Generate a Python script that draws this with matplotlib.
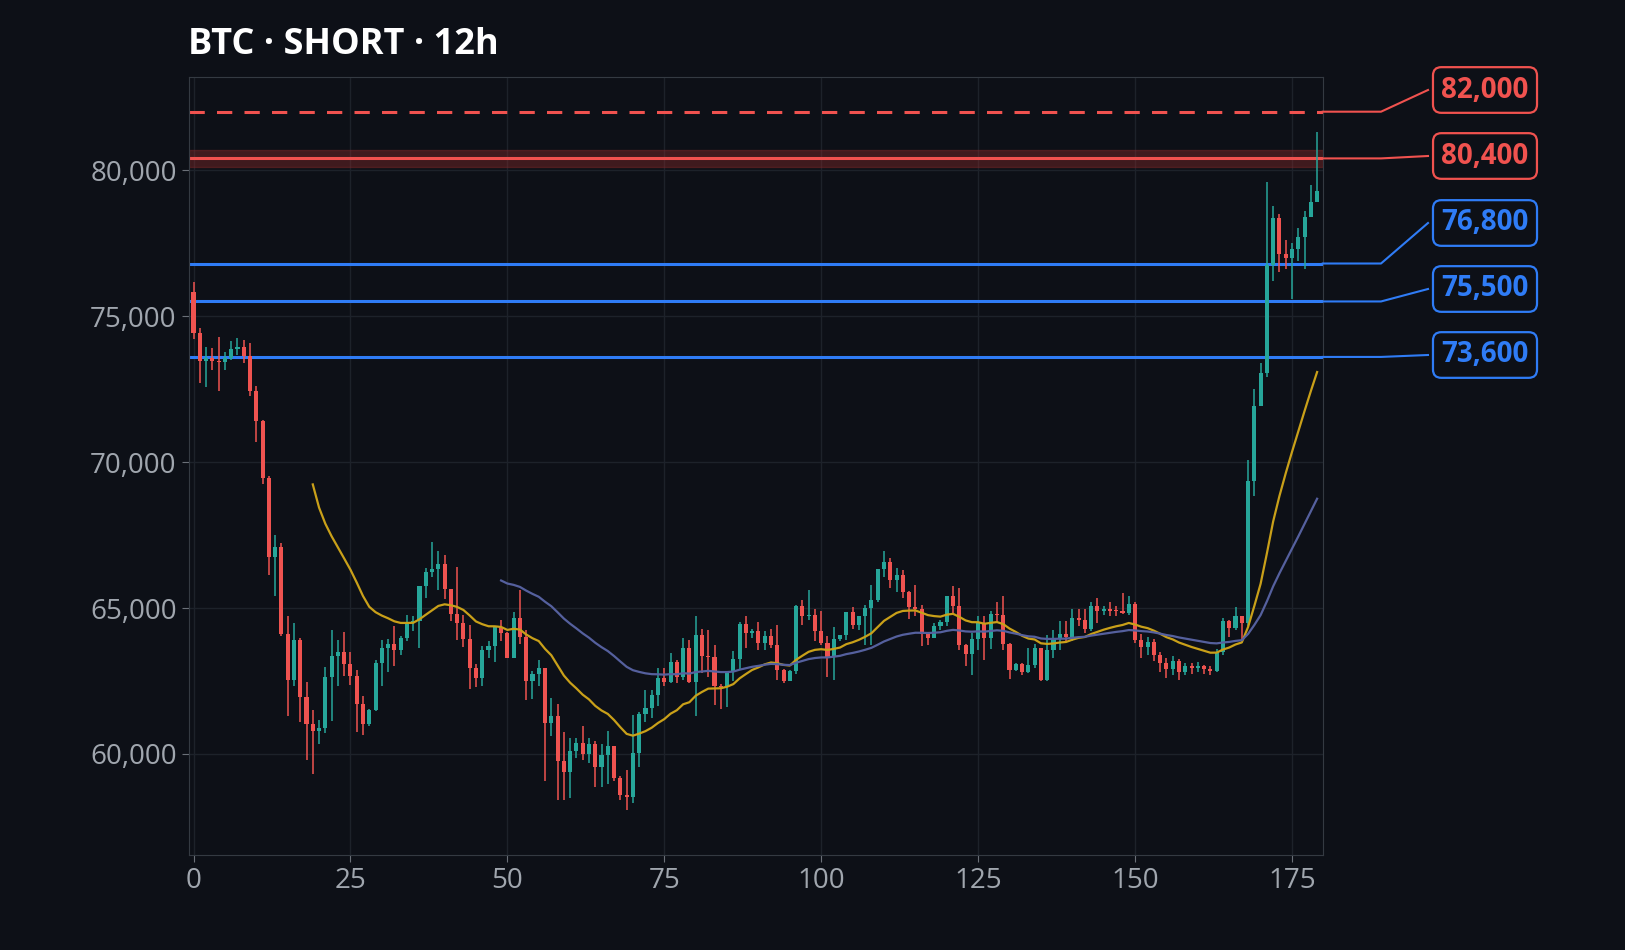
import numpy as np
import matplotlib.pyplot as plt

plt.rcParams['font.family'] = ['Open Sans', 'Noto Sans', 'DejaVu Sans']

# OHLC, in thousands of USD
first_open = 75.82
close = [74.42, 73.45, 73.56, 73.45, 73.41, 73.55, 73.87, 73.94, 73.62, 72.45,
         71.39, 69.44, 66.74, 67.10, 64.10, 62.52, 63.92, 61.94, 61.02, 60.78,
         60.89, 62.64, 63.37, 63.49, 63.07, 62.66, 61.70, 61.02, 61.52, 63.12,
         63.63, 63.77, 63.55, 63.97, 64.49, 64.54, 65.76, 66.24, 66.34, 66.52,
         65.65, 64.79, 64.49, 63.94, 62.95, 62.60, 63.55, 63.71, 64.35, 64.14,
         63.29, 64.66, 64.01, 62.49, 62.75, 62.94, 61.06, 61.31, 59.75, 59.37,
         60.11, 60.38, 60.00, 60.34, 59.54, 59.98, 60.26, 59.17, 58.58, 58.53,
         60.03, 61.38, 61.58, 62.03, 62.60, 62.45, 63.14, 62.63, 63.63, 62.45,
         64.09, 63.37, 63.32, 62.32, 62.30, 62.80, 63.25, 64.46, 64.14, 64.22,
         63.80, 64.05, 63.74, 62.87, 62.50, 62.83, 65.08, 64.71, 64.77, 64.20,
         63.80, 63.32, 63.95, 64.08, 64.87, 64.43, 64.71, 65.01, 65.29, 66.34,
         66.59, 65.97, 66.14, 65.54, 65.03, 64.96, 64.11, 63.97, 64.40, 64.53,
         65.42, 65.06, 63.72, 63.42, 63.94, 64.49, 63.97, 64.79, 64.77, 63.77,
         62.86, 63.08, 62.80, 63.05, 63.63, 62.54, 63.57, 63.94, 64.12, 64.01,
         64.66, 64.58, 64.29, 65.06, 64.89, 64.97, 64.91, 64.90, 64.83, 65.15,
         63.92, 63.65, 63.85, 63.40, 63.10, 62.90, 63.20, 62.80, 63.00, 62.95,
         63.00, 62.90, 62.85, 63.50, 64.57, 64.31, 64.74, 64.48, 69.36, 71.93,
         73.05, 76.76, 78.36, 77.12, 77.00, 77.30, 77.70, 78.40, 78.90, 79.30]
high = [76.16, 74.59, 73.94, 73.90, 74.28, 73.78, 74.15, 74.26, 74.19, 74.09,
        72.61, 71.44, 69.53, 67.51, 67.23, 64.74, 64.49, 63.97, 62.45, 61.52,
        61.18, 62.98, 64.26, 63.89, 64.19, 63.48, 62.89, 61.98, 61.55, 63.23,
        63.92, 63.95, 64.39, 64.03, 64.77, 64.71, 65.77, 66.37, 67.27, 66.96,
        66.83, 65.56, 66.40, 64.77, 64.43, 63.09, 63.69, 63.88, 64.37, 64.60,
        64.18, 64.85, 65.60, 64.26, 62.83, 63.23, 62.94, 61.92, 61.72, 60.77,
        60.55, 60.55, 60.95, 60.55, 60.43, 60.34, 60.80, 60.28, 59.26, 59.46,
        61.35, 61.43, 62.20, 62.18, 62.94, 62.94, 63.46, 63.23, 63.97, 63.91,
        64.74, 64.28, 64.24, 63.74, 62.41, 62.83, 63.52, 64.51, 64.71, 64.29,
        64.51, 64.22, 64.29, 64.43, 62.91, 62.89, 65.11, 65.29, 65.63, 64.97,
        64.89, 64.05, 64.35, 64.09, 64.87, 65.03, 64.71, 65.11, 65.80, 66.34,
        66.96, 66.71, 66.37, 66.31, 65.59, 65.80, 65.10, 64.19, 64.49, 64.60,
        65.42, 65.77, 65.69, 63.78, 64.14, 64.74, 64.74, 64.89, 65.19, 65.42,
        63.80, 63.12, 63.12, 63.63, 63.78, 63.60, 64.09, 64.23, 64.54, 64.54,
        64.97, 64.97, 64.97, 65.19, 65.34, 65.08, 65.19, 65.06, 65.51, 65.40,
        65.20, 64.10, 64.00, 63.95, 63.50, 63.30, 63.35, 63.25, 63.10, 63.10,
        63.15, 63.05, 63.00, 63.60, 64.65, 64.60, 65.03, 64.74, 70.08, 72.50,
        73.40, 79.60, 78.78, 78.50, 77.60, 77.50, 78.00, 78.60, 79.50, 81.30]
low = [74.21, 72.70, 72.56, 73.14, 72.45, 73.16, 73.50, 73.68, 73.38, 72.25,
       70.67, 69.24, 66.14, 65.40, 64.03, 61.31, 62.34, 61.08, 59.80, 59.30,
       60.35, 60.72, 61.14, 62.34, 62.66, 62.37, 60.74, 60.66, 60.95, 61.48,
       62.32, 62.80, 63.00, 63.38, 63.86, 64.20, 63.63, 65.33, 66.06, 65.61,
       65.31, 64.54, 63.92, 63.66, 62.23, 62.29, 62.32, 63.29, 63.14, 63.86,
       63.28, 63.28, 63.78, 61.86, 61.89, 62.32, 59.06, 60.63, 58.43, 58.43,
       58.49, 59.86, 59.80, 59.69, 58.87, 58.87, 58.98, 59.06, 58.43, 58.09,
       58.32, 59.55, 61.08, 61.23, 61.65, 62.32, 62.43, 62.43, 62.52, 62.43,
       61.29, 62.77, 62.62, 61.69, 61.54, 61.61, 62.49, 62.89, 63.62, 63.97,
       63.57, 63.57, 63.63, 62.54, 62.43, 62.49, 62.75, 64.43, 64.60, 63.86,
       63.74, 62.62, 62.54, 63.86, 63.92, 64.28, 64.26, 63.72, 63.74, 65.19,
       66.06, 65.69, 65.54, 65.34, 64.62, 64.71, 63.69, 63.74, 63.97, 64.26,
       64.39, 64.83, 63.57, 63.00, 62.72, 63.57, 63.23, 63.60, 64.49, 63.57,
       62.57, 62.83, 62.72, 62.77, 62.94, 62.49, 62.49, 63.29, 63.57, 63.86,
       63.86, 64.37, 64.14, 64.20, 64.49, 64.77, 64.71, 64.71, 64.81, 64.77,
       63.80, 63.30, 63.40, 63.20, 62.80, 62.60, 62.70, 62.55, 62.70, 62.75,
       62.80, 62.75, 62.70, 62.80, 63.40, 64.00, 64.25, 63.90, 64.40, 68.85,
       71.95, 72.90, 76.21, 76.50, 76.60, 75.60, 76.90, 76.60, 78.50, 78.90]

levels = [82000, 80400, 76800, 75500, 73600]
level_labels = ['82,000', '80,400', '76,800', '75,500', '73,600']
level_colors = ['#f0524f', '#f0524f', '#2f7cf6', '#2f7cf6', '#2f7cf6']
zone = (80100, 80700)

close = np.array(close) * 1000
high = np.array(high) * 1000
low = np.array(low) * 1000
opn = np.r_[first_open * 1000, close[:-1]]
x = np.arange(len(close))

up_col, dn_col = '#26a69a', '#ef5350'
bg = '#0d1017'


def ema(values, n):
    # EMA seeded with the first n-bar simple average
    out = np.full(len(values), np.nan)
    out[n - 1] = values[:n].mean()
    k = 2 / (n + 1)
    for i in range(n, len(values)):
        out[i] = values[i] * k + out[i - 1] * (1 - k)
    return out


fig = plt.figure(figsize=(16.25, 9.5), dpi=100, facecolor=bg)
ax = fig.add_axes([0.116, 0.10, 0.698, 0.819], facecolor=bg)

cols = np.where(close >= opn, up_col, dn_col)
ax.vlines(x, low, high, colors=cols, linewidth=1.1, zorder=3)
body = np.maximum(np.abs(close - opn), 40)
ax.bar(x, body, bottom=np.minimum(opn, close), width=0.65, color=cols, zorder=4)

ax.plot(x, ema(close, 20), color='#c9a019', lw=1.6, zorder=5)
ax.plot(x, ema(close, 50), color='#55609e', lw=1.6, zorder=5)

ax.axhspan(zone[0], zone[1], color='#8b2a2a', alpha=0.4, zorder=1)
for lv, c in zip(levels, level_colors):
    ls = (0, (5, 4)) if lv == 82000 else '-'
    ax.axhline(lv, color=c, lw=2.2, ls=ls, zorder=2)

ax.set_xlim(-0.8, 179.9)
ax.set_ylim(56540, 83190)
ax.set_xticks([0, 25, 50, 75, 100, 125, 150, 175])
ax.set_yticks([60000, 65000, 70000, 75000, 80000])
ax.yaxis.set_major_formatter(plt.FuncFormatter(lambda v, p: f'{int(v):,}'))
ax.tick_params(colors='#a0a6ae', labelsize=20, length=5, color='#6b7078')
ax.grid(color='#1d222a', lw=1)
ax.set_axisbelow(True)
for s in ax.spines.values():
    s.set_color('#343a42')

fig.text(0.116, 0.953, 'BTC · SHORT · 12h', color='white', fontsize=26,
         fontweight='bold', va='center', ha='left')

# right-side price labels with connectors
fig.canvas.draw()
W, H = fig.bbox.width, fig.bbox.height
label_py = [90, 156, 223, 289, 355]
for lv, txt, c, py in zip(levels, level_labels, level_colors, label_py):
    _, yd = ax.transData.transform((0, lv))
    yl = H - py
    xs = [ax.bbox.x1, 1381, 1428]
    ys = [yd, yd, yl]
    fig.add_artist(plt.Line2D([p / W for p in xs], [p / H for p in ys], color=c, lw=1.5,
                              transform=fig.transFigure))
    fig.text(1485 / W, yl / H, txt, color=c, fontsize=20, fontweight='bold',
             ha='center', va='center',
             bbox=dict(boxstyle='round,pad=0.3,rounding_size=0.3', fc=bg, ec=c, lw=1.6))

fig.savefig('out.png', dpi=100, facecolor=bg)
